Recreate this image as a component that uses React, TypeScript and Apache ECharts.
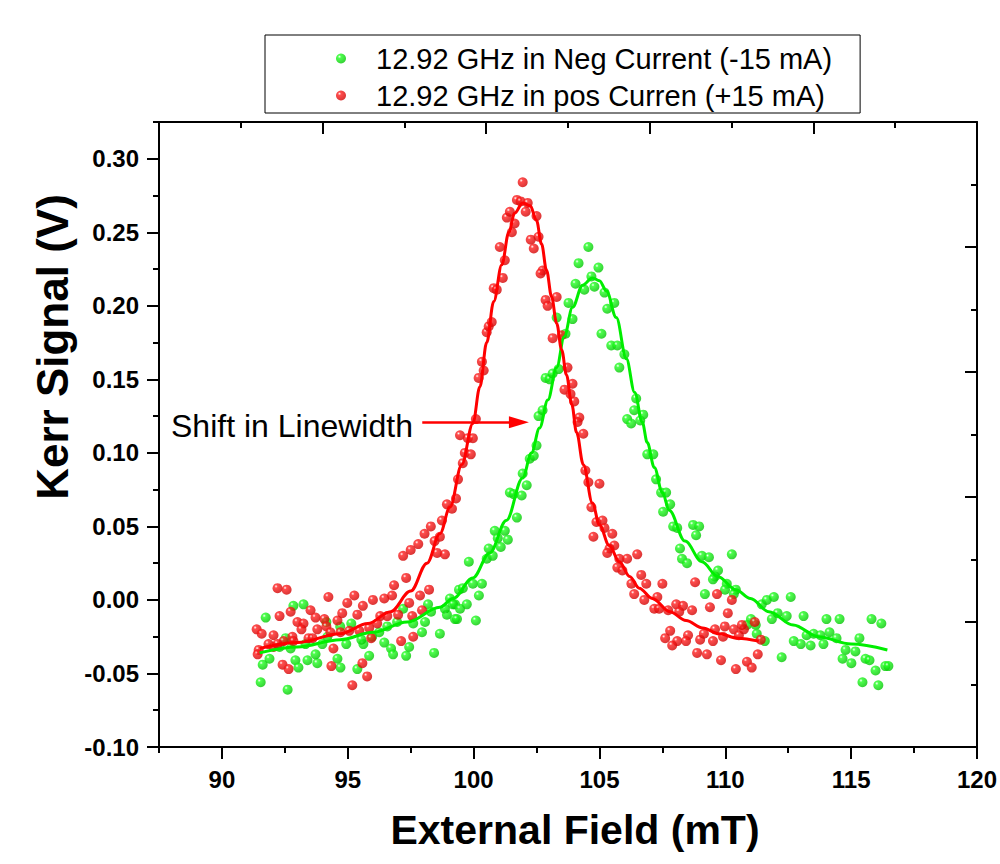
import React, { useEffect, useRef } from "react";
import * as echarts from "echarts";

const greenName = "12.92 GHz in Neg Current (-15 mA)";
const redName = "12.92 GHz in pos Curren (+15 mA)";

const greenPoints: [number, number][] = [
  [91.74, -0.012], [92.84, -0.004], [93.24, -0.003], [91.62, -0.044], [91.54, -0.056], [92.61, -0.061],
  [91.89, -0.040], [92.29, -0.032], [92.53, -0.026], [92.92, -0.041], [93.04, -0.046], [93.40, -0.041],
  [93.79, -0.043], [93.72, -0.037], [93.32, -0.030], [92.73, -0.033], [93.99, -0.030], [94.19, -0.025],
  [94.59, -0.040], [94.71, -0.046], [94.94, -0.030], [95.14, -0.016], [95.38, -0.047], [95.62, -0.030],
  [95.85, -0.038], [95.54, -0.027], [94.15, -0.015], [94.70, -0.018], [95.97, -0.025], [96.45, -0.029],
  [96.72, -0.033], [96.80, -0.037], [97.32, -0.038], [97.44, -0.032], [96.96, -0.015], [97.95, -0.022],
  [97.60, -0.016], [98.43, -0.036], [98.66, -0.023], [98.07, -0.015], [98.19, -0.003], [96.57, -0.018],
  [96.25, -0.022], [97.20, -0.006], [98.31, -0.008], [98.94, -0.010], [98.86, -0.006], [99.06, 0.001],
  [99.26, -0.003], [99.42, 0.007], [99.26, -0.013], [100.09, -0.014], [99.34, -0.013], [99.18, -0.003],
  [99.46, -0.006], [99.73, -0.003], [99.57, 0.008], [99.97, 0.011], [100.33, 0.011], [100.21, 0.003],
  [99.81, 0.026], [100.52, 0.028], [100.60, 0.035], [100.76, 0.030], [101.08, 0.036], [100.84, 0.047],
  [101.24, 0.047], [100.96, 0.042], [101.36, 0.041], [101.72, 0.056], [101.44, 0.073], [101.59, 0.072],
  [101.91, 0.071], [102.11, 0.078], [101.95, 0.086], [102.23, 0.096], [102.39, 0.098], [102.50, 0.105],
  [102.58, 0.125], [102.74, 0.129], [102.86, 0.151], [103.02, 0.150], [103.14, 0.154], [103.38, 0.157],
  [103.65, 0.181], [103.30, 0.192], [103.93, 0.191], [103.77, 0.202], [104.05, 0.215], [104.17, 0.229],
  [104.40, 0.211], [104.56, 0.240], [104.68, 0.220], [104.96, 0.226], [104.80, 0.213], [105.20, 0.209],
  [105.59, 0.202], [105.31, 0.198], [105.08, 0.181], [105.47, 0.173], [105.79, 0.158], [105.71, 0.173],
  [105.99, 0.167], [106.46, 0.137], [106.38, 0.129], [106.74, 0.126], [106.62, 0.122], [106.10, 0.123],
  [106.26, 0.120], [106.90, 0.099], [107.14, 0.099], [107.25, 0.082], [107.45, 0.073], [107.65, 0.073],
  [107.81, 0.065], [107.53, 0.060], [107.93, 0.050], [108.09, 0.049], [108.72, 0.051], [108.96, 0.050],
  [108.84, 0.044], [108.20, 0.035], [108.28, 0.028], [108.48, 0.025], [109.07, 0.030], [109.35, 0.029],
  [110.26, 0.031], [109.71, 0.020], [109.59, 0.016], [109.51, 0.014], [110.06, 0.011], [109.99, 0.007],
  [110.42, 0.007], [110.34, 0.004], [109.19, 0.004], [111.45, -0.003], [111.65, 0.000], [111.93, 0.002],
  [112.60, 0.002], [111.85, -0.013], [112.08, -0.009], [112.44, -0.011], [111.02, -0.013], [110.86, -0.017],
  [111.21, -0.017], [111.25, -0.023], [111.57, -0.028], [112.24, -0.039], [112.72, -0.028], [113.00, -0.030],
  [113.11, -0.011], [113.39, -0.031], [113.23, -0.024], [113.51, -0.023], [113.78, -0.024], [113.90, -0.030],
  [114.02, -0.013], [114.14, -0.022], [114.42, -0.026], [114.54, -0.013], [114.78, -0.034], [114.66, -0.040],
  [115.01, -0.043], [115.33, -0.026], [115.17, -0.035], [115.57, -0.040], [115.73, -0.041], [115.81, -0.013],
  [116.20, -0.016], [115.97, -0.048], [115.45, -0.056], [116.08, -0.058], [116.36, -0.045], [116.48, -0.045],
];

const redPoints: [number, number][] = [
  [92.21, 0.008], [92.57, 0.007], [94.23, 0.002], [95.26, 0.003], [94.98, -0.002], [95.60, -0.004],
  [96.00, 0.000], [96.45, 0.001], [96.84, 0.010], [97.32, 0.015], [96.76, 0.003], [97.87, 0.003],
  [98.23, 0.007], [92.73, -0.008], [92.29, -0.011], [91.38, -0.020], [91.58, -0.023], [92.05, -0.024],
  [93.00, -0.015], [93.24, -0.016], [93.16, -0.020], [93.52, -0.007], [93.72, -0.012], [94.07, -0.013],
  [93.79, -0.020], [94.15, -0.018], [94.59, -0.014], [95.38, -0.010], [94.78, -0.009], [96.29, -0.011],
  [96.57, -0.011], [96.17, -0.016], [95.85, -0.019], [95.46, -0.021], [94.71, -0.022], [94.31, -0.022],
  [93.44, -0.026], [92.80, -0.025], [92.45, -0.028], [91.85, -0.030], [91.46, -0.034], [91.42, -0.037],
  [92.05, -0.032], [92.21, -0.030], [92.84, -0.028], [93.60, -0.026], [94.43, -0.033], [92.41, -0.044],
  [92.65, -0.047], [94.35, -0.045], [95.58, -0.043], [95.77, -0.052], [95.18, -0.058], [95.06, -0.021],
  [95.93, -0.026], [97.00, -0.010], [97.44, -0.002], [97.56, -0.011], [97.95, -0.007], [97.12, -0.028],
  [97.60, -0.025], [97.20, 0.030], [97.50, 0.034], [97.80, 0.038], [98.05, 0.045], [98.30, 0.050],
  [98.45, 0.040], [98.55, 0.032], [99.46, 0.112], [99.77, 0.110], [99.97, 0.110], [99.65, 0.100],
  [99.89, 0.099], [99.57, 0.093], [99.38, 0.082], [99.30, 0.069], [98.94, 0.065], [99.14, 0.062],
  [98.74, 0.054], [98.66, 0.043], [98.86, 0.031], [100.09, 0.123], [100.20, 0.151], [100.40, 0.156],
  [100.33, 0.162], [100.52, 0.182], [100.60, 0.186], [100.72, 0.189], [100.80, 0.212], [100.92, 0.211],
  [101.16, 0.219], [101.04, 0.240], [101.24, 0.231], [101.52, 0.250], [101.63, 0.256], [101.32, 0.260],
  [101.44, 0.264], [101.72, 0.272], [101.87, 0.271], [101.95, 0.284], [102.15, 0.270], [102.07, 0.264],
  [102.50, 0.261], [102.58, 0.247], [102.27, 0.245], [102.39, 0.239], [102.74, 0.224], [102.66, 0.222],
  [102.86, 0.204], [102.94, 0.200], [103.30, 0.206], [103.14, 0.178], [103.50, 0.180], [103.73, 0.158],
  [103.93, 0.147], [103.61, 0.143], [103.85, 0.140], [104.00, 0.135], [104.20, 0.124], [104.36, 0.113],
  [104.13, 0.121], [104.44, 0.088], [104.56, 0.080], [105.00, 0.079], [104.68, 0.063], [104.88, 0.053],
  [105.12, 0.054], [105.20, 0.049], [105.51, 0.045], [104.76, 0.043], [105.59, 0.037], [105.40, 0.035],
  [105.31, 0.032], [105.79, 0.028], [106.10, 0.028], [105.71, 0.022], [105.91, 0.020], [106.27, 0.011],
  [106.38, 0.004], [106.50, 0.031], [106.66, 0.017], [106.86, 0.011], [107.50, 0.011], [106.78, 0.000],
  [107.18, -0.006], [107.37, -0.006], [107.73, -0.007], [107.30, 0.002], [108.05, -0.003], [108.32, -0.004],
  [108.68, -0.007], [108.17, -0.008], [108.80, 0.012], [109.39, -0.005], [109.67, 0.004], [110.10, -0.009],
  [110.26, 0.000], [107.81, -0.021], [107.61, -0.026], [108.09, -0.028], [107.89, -0.031], [108.52, -0.024],
  [108.44, -0.028], [109.00, -0.027], [109.15, -0.023], [109.51, -0.028], [109.59, -0.020], [108.88, -0.036],
  [109.27, -0.037], [109.98, -0.018], [110.34, -0.020], [110.54, -0.024], [110.74, -0.020], [110.66, -0.017],
  [109.91, -0.025], [109.83, -0.041], [110.42, -0.047], [110.86, -0.042], [111.05, -0.046], [111.29, -0.037],
  [111.41, -0.027], [111.17, -0.015],
];

const redFit: [number, number][] = [
  [91.5, -0.033], [93.0, -0.029], [94.7, -0.023], [95.8, -0.016], [96.7, -0.008], [97.5, 0.006],
  [98.15, 0.025], [98.66, 0.045], [99.06, 0.063], [99.53, 0.092], [99.97, 0.120], [100.25, 0.145],
  [100.52, 0.175], [100.8, 0.203], [101.12, 0.228], [101.4, 0.250], [101.63, 0.263], [101.95, 0.270],
  [102.25, 0.268], [102.5, 0.258], [102.7, 0.242], [102.9, 0.224], [103.1, 0.206], [103.3, 0.188],
  [103.5, 0.170], [103.69, 0.153], [103.9, 0.133], [104.09, 0.114], [104.36, 0.092], [104.72, 0.066],
  [105.0, 0.051], [105.39, 0.037], [105.79, 0.026], [106.2, 0.016], [106.58, 0.008], [107.1, 0.001],
  [107.8, -0.008], [108.44, -0.014], [109.1, -0.019], [109.75, -0.023], [110.5, -0.026], [111.33, -0.028],
];

const greenFit: [number, number][] = [
  [91.5, -0.036], [93.0, -0.032], [94.7, -0.027], [96.0, -0.022], [97.36, -0.015], [98.66, -0.005],
  [99.18, 0.001], [99.97, 0.015], [100.64, 0.032], [101.3, 0.054], [101.95, 0.083], [102.3, 0.100],
  [102.62, 0.117], [102.95, 0.136], [103.3, 0.158], [103.6, 0.179], [103.93, 0.199], [104.33, 0.214],
  [104.72, 0.219], [105.0, 0.217], [105.28, 0.210], [105.67, 0.192], [106.07, 0.164], [106.4, 0.141],
  [106.7, 0.121], [106.9, 0.107], [107.18, 0.090], [107.5, 0.073], [107.77, 0.061], [108.4, 0.040],
  [109.07, 0.026], [109.7, 0.016], [110.42, 0.007], [111.0, 0.001], [111.73, -0.008], [112.7, -0.017],
  [113.7, -0.025], [115.0, -0.030], [116.44, -0.034],
];

const xMajorTicks = [90, 95, 100, 105, 110, 115, 120];
const xMinorTicks = [87.5, 92.5, 97.5, 102.5, 107.5, 112.5, 117.5];
const yMajorTicks = [-0.1, -0.05, 0, 0.05, 0.1, 0.15, 0.2, 0.25, 0.3];
const yMinorTicks = [-0.075, -0.025, 0.025, 0.075, 0.125, 0.175, 0.225, 0.275, 0.325];
const frameMajorTicks = [2, 4, 6, 8];
const frameMinorTicks = [1, 3, 5, 7, 9];

const arrowStart: [number, number] = [97.96, 0.1208];
const arrowEnd: [number, number] = [101.8, 0.1208];

const FONT = "'Liberation Sans', Arial, Helvetica, sans-serif";

function ball(base: string, dark: string) {
  return {
    type: "radial",
    x: 0.35,
    y: 0.32,
    r: 0.75,
    colorStops: [
      { offset: 0, color: "#ffffff" },
      { offset: 0.22, color: base },
      { offset: 1, color: dark },
    ],
  };
}

export default function App() {
  const ref = useRef<HTMLDivElement>(null);
  useEffect(() => {
    if (!ref.current) return;
    const chart = echarts.init(ref.current, null, { renderer: "svg" });
    const lineAxis = { lineStyle: { color: "#000", width: 2 } };
    const hiddenAxisBase = {
      type: "value",
      splitLine: { show: false },
      axisLabel: { show: false },
    };
    chart.setOption({
      animation: false,
      backgroundColor: "#ffffff",
      textStyle: { fontFamily: FONT },
      grid: { left: 159, right: 21, top: 122, bottom: 117, containLabel: false },
      legend: {
        orient: "vertical",
        left: 265,
        top: 35,
        padding: [7, 28, 1, 71],
        itemWidth: 60,
        itemHeight: 10,
        itemGap: 4,
        icon: "circle",
        borderColor: "#000",
        borderWidth: 1,
        data: [greenName, redName],
        textStyle: { fontSize: 29, lineHeight: 33, color: "#000", fontFamily: FONT },
      },
      xAxis: [
        {
          type: "value",
          position: "bottom",
          min: 87.5,
          max: 120,
          axisLine: { show: true, onZero: false, ...lineAxis },
          axisTick: { show: true, customValues: xMajorTicks, length: 12, lineStyle: { color: "#000", width: 2 } },
          axisLabel: {
            customValues: xMajorTicks,
            margin: 20,
            fontSize: 24,
            fontWeight: "bold",
            color: "#000",
            fontFamily: FONT,
          },
          splitLine: { show: false },
        },
        {
          ...hiddenAxisBase,
          position: "bottom",
          min: 87.5,
          max: 120,
          axisLine: { show: false, onZero: false },
          axisTick: { show: true, customValues: xMinorTicks, length: 6, lineStyle: { color: "#000", width: 2 } },
        },
        {
          ...hiddenAxisBase,
          position: "top",
          min: 0,
          max: 10,
          axisLine: { show: true, onZero: false, ...lineAxis },
          axisTick: { show: true, inside: true, customValues: frameMajorTicks, length: 12, lineStyle: { color: "#000", width: 2 } },
        },
        {
          ...hiddenAxisBase,
          position: "top",
          min: 0,
          max: 10,
          axisLine: { show: false, onZero: false },
          axisTick: { show: true, inside: true, customValues: frameMinorTicks, length: 6, lineStyle: { color: "#000", width: 2 } },
        },
      ],
      yAxis: [
        {
          type: "value",
          position: "left",
          min: -0.1,
          max: 0.325,
          axisLine: { show: true, onZero: false, ...lineAxis },
          axisTick: { show: true, customValues: yMajorTicks, length: 12, lineStyle: { color: "#000", width: 2 } },
          axisLabel: {
            customValues: yMajorTicks,
            margin: 20,
            fontSize: 24,
            fontWeight: "bold",
            color: "#000",
            fontFamily: FONT,
            formatter: (v: number) => v.toFixed(2),
          },
          splitLine: { show: false },
        },
        {
          ...hiddenAxisBase,
          position: "left",
          min: -0.1,
          max: 0.325,
          axisLine: { show: false, onZero: false },
          axisTick: { show: true, customValues: yMinorTicks, length: 6, lineStyle: { color: "#000", width: 2 } },
        },
        {
          ...hiddenAxisBase,
          position: "right",
          min: 0,
          max: 10,
          axisLine: { show: true, onZero: false, ...lineAxis },
          axisTick: { show: true, inside: true, customValues: frameMajorTicks, length: 12, lineStyle: { color: "#000", width: 2 } },
        },
        {
          ...hiddenAxisBase,
          position: "right",
          min: 0,
          max: 10,
          axisLine: { show: false, onZero: false },
          axisTick: { show: true, inside: true, customValues: frameMinorTicks, length: 6, lineStyle: { color: "#000", width: 2 } },
        },
      ],
      graphic: [
        {
          type: "text",
          x: 52,
          y: 347,
          rotation: Math.PI / 2,
          style: {
            text: "Kerr Signal (V)",
            fontSize: 44,
            fontWeight: "bold",
            fontFamily: FONT,
            fill: "#000",
            align: "center",
            verticalAlign: "middle",
          },
        },
        {
          type: "text",
          x: 575,
          y: 830,
          style: {
            text: "External Field (mT)",
            fontSize: 41,
            fontWeight: "bold",
            fontFamily: FONT,
            fill: "#000",
            align: "center",
            verticalAlign: "middle",
          },
        },
        {
          type: "text",
          x: 171,
          y: 425.5,
          style: {
            text: "Shift in Linewidth",
            fontSize: 32,
            fontFamily: FONT,
            fill: "#000",
            align: "left",
            verticalAlign: "middle",
          },
        },
      ],
      series: [
        {
          name: greenName,
          type: "scatter",
          xAxisIndex: 0,
          yAxisIndex: 0,
          symbol: "circle",
          symbolSize: 10,
          itemStyle: { color: ball("#22ff22", "#00c000") },
          data: greenPoints,
          z: 2,
        },
        {
          name: redName,
          type: "scatter",
          xAxisIndex: 0,
          yAxisIndex: 0,
          symbol: "circle",
          symbolSize: 10,
          itemStyle: { color: ball("#ff2020", "#cc0000") },
          data: redPoints,
          z: 2,
        },
        {
          name: "greenFit",
          type: "line",
          xAxisIndex: 0,
          yAxisIndex: 0,
          showSymbol: false,
          smooth: 0.35,
          smoothMonotone: "x",
          lineStyle: { color: "#00ee00", width: 3 },
          itemStyle: { color: "#00ee00" },
          data: greenFit,
          z: 3,
        },
        {
          name: "redFit",
          type: "line",
          xAxisIndex: 0,
          yAxisIndex: 0,
          showSymbol: false,
          smooth: 0.35,
          smoothMonotone: "x",
          lineStyle: { color: "#ff0000", width: 3 },
          itemStyle: { color: "#ff0000" },
          data: redFit,
          z: 3,
          markLine: {
            silent: true,
            symbol: ["none", "triangle"],
            symbolSize: [12, 20],
            label: { show: false },
            lineStyle: { color: "#ff0000", width: 2.5, type: "solid" },
            data: [[{ coord: arrowStart }, { coord: arrowEnd }]],
          },
        },
      ],
    });
    return () => chart.dispose();
  }, []);
  return (
    <div
      ref={ref}
      style={{ position: "fixed", left: 0, top: 0, width: 1000, height: 864, background: "#fff" }}
    />
  );
}
